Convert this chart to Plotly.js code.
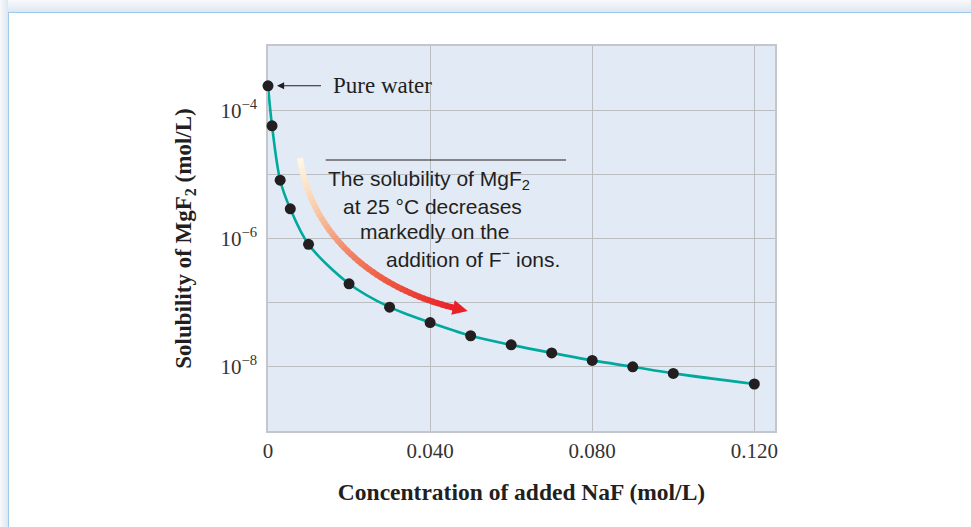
<!DOCTYPE html>
<html><head><meta charset="utf-8">
<script src="https://cdn.plot.ly/plotly-3.0.1.min.js"></script>
<style>
html,body{margin:0;padding:0;background:#fff;}
#wrap{position:relative;width:971px;height:527px;overflow:hidden;background:#fff;}
#topband{position:absolute;left:0;top:0;width:971px;height:12px;background:linear-gradient(to bottom,#f8f9fa,#dde7f2);}
#leftband{position:absolute;left:0;top:0;width:8px;height:527px;background:linear-gradient(to right,#f8f9fa,#dde7f2);}
#frame{position:absolute;left:8px;top:12px;width:980px;height:540px;border-top:1.5px solid #a3c9ea;border-left:1.5px solid #a3c9ea;background:#fff;}
#chart{position:absolute;left:0;top:0;width:971px;height:527px;}
</style></head>
<body>
<div id="wrap"><div id="topband"></div><div id="leftband"></div><div id="frame"></div><div id="chart"></div></div>
<script>
// Data
const concNaF = [0, 0.001, 0.003, 0.0055, 0.010, 0.020, 0.030, 0.040, 0.050, 0.060, 0.070, 0.080, 0.090, 0.100, 0.120];
const solubility = [2.4e-4, 5.7e-5, 8.1e-6, 2.9e-6, 8.1e-7, 1.97e-7, 8.5e-8, 4.9e-8, 3.05e-8, 2.2e-8, 1.65e-8, 1.26e-8, 1.0e-8, 7.9e-9, 5.4e-9];
const xTickVals = [0, 0.04, 0.08, 0.12];
const xTickText = ['0', '0.040', '0.080', '0.120'];
const yTickVals = [1e-8, 1e-6, 1e-4];
const yTickText = ['10<sup>−8</sup>', '10<sup>−6</sup>', '10<sup>−4</sup>'];
const yMinorGrid = [1e-9, 1e-7, 1e-5, 1e-3];
const calloutLines = [
  'The solubility of MgF<sub>2</sub>',
  'at 25 °C decreases',
  'markedly on the',
  'addition of F<sup>−</sup> ions.'
];

// layout geometry (plot area in page pixels)
const W = 971, H = 527;
const M = {l: 268, r: 196, t: 46, b: 96};
const PW = W - M.l - M.r, PH = H - M.t - M.b;
const px2x = p => (p - M.l) / PW;
const px2y = p => (H - M.b - p) / PH;

const serif = 'Liberation Serif, Times New Roman, serif';
const sans = 'Liberation Sans, Arial, Helvetica, sans-serif';
const ink = '#231f20';
const gridCol = '#babdc1';

const traces = [{
  x: concNaF, y: solubility, type: 'scatter', mode: 'lines+markers',
  line: {color: '#00a99d', width: 2.6, shape: 'spline', smoothing: 0.9},
  marker: {color: ink, size: 11},
  cliponaxis: false,
  hoverinfo: 'x+y', showlegend: false
}];

const shapes = [];
const annotations = [];

// callout rule line
shapes.push({type: 'line', xref: 'paper', yref: 'paper',
  x0: px2x(325.7), x1: px2x(566), y0: px2y(160), y1: px2y(160),
  line: {color: ink, width: 1.2}});

// gradient curved arrow (decoration)
const P0 = [300, 158], P1 = [312, 240], P2 = [380, 290], P3 = [455, 308];
const bez = t => {
  const u = 1 - t;
  return [u*u*u*P0[0] + 3*u*u*t*P1[0] + 3*u*t*t*P2[0] + t*t*t*P3[0],
          u*u*u*P0[1] + 3*u*u*t*P1[1] + 3*u*t*t*P2[1] + t*t*t*P3[1]];
};
const stops = [[0, [255, 248, 232]], [0.22, [250, 205, 170]], [0.45, [242, 138, 106]], [0.68, [238, 88, 66]], [1, [232, 32, 40]]];
const colAt = t => {
  for (let i = 0; i < stops.length - 1; i++) {
    const a = stops[i], b = stops[i+1];
    if (t <= b[0]) {
      const f = (t - a[0]) / (b[0] - a[0]);
      const c = a[1].map((v, k) => Math.round(v + (b[1][k] - v) * f));
      return `rgb(${c[0]},${c[1]},${c[2]})`;
    }
  }
  return 'rgb(232,32,40)';
};
const N = 48;
for (let i = 0; i < N; i++) {
  const t0 = i / N, t1 = Math.min(1, (i + 1.35) / N);
  const a = bez(t0), b = bez(t1);
  shapes.push({type: 'line', xref: 'paper', yref: 'paper',
    x0: px2x(a[0]), y0: px2y(a[1]), x1: px2x(b[0]), y1: px2y(b[1]),
    line: {color: colAt((i + 0.5) / N), width: 6}});
}
{
  const dx = P3[0] - P2[0], dy = P3[1] - P2[1], L = Math.hypot(dx, dy);
  const ux = dx / L, uy = dy / L, nx = -uy, ny = ux;
  const tip = [P3[0] + 13*ux, P3[1] + 13*uy];
  const b1 = [P3[0] - 2*ux + 7.5*nx, P3[1] - 2*uy + 7.5*ny];
  const b2 = [P3[0] - 2*ux - 7.5*nx, P3[1] - 2*uy - 7.5*ny];
  const pt = p => `${px2x(p[0])},${px2y(p[1])}`;
  shapes.push({type: 'path', xref: 'paper', yref: 'paper',
    path: `M ${pt(tip)} L ${pt(b1)} L ${pt(b2)} Z`,
    fillcolor: 'rgb(232,32,40)', line: {width: 0}});
}

// callout text lines
const lineLeft = [326.7, 341.7, 359, 385];
const lineMid = [180, 206, 231, 257.5];
calloutLines.forEach((txt, i) => {
  annotations.push({xref: 'paper', yref: 'paper', x: px2x(lineLeft[i]), y: px2y(lineMid[i]),
    xanchor: 'left', yanchor: 'middle', showarrow: false, text: txt,
    font: {family: sans, size: 21, color: ink}, borderpad: 0});
});

// Pure water label with arrow to the first point
annotations.push({x: concNaF[0], y: Math.log10(solubility[0]), xref: 'x', yref: 'y',
  text: 'Pure water', showarrow: true, ax: 53, ay: 0, axref: 'pixel', ayref: 'pixel',
  xanchor: 'left', yanchor: 'middle', borderpad: 11,
  font: {family: serif, size: 23, color: ink},
  arrowhead: 2, arrowsize: 1.3, arrowwidth: 1.1, arrowcolor: ink, standoff: 9});

const layout = {
  width: W, height: H,
  margin: M,
  paper_bgcolor: 'rgba(0,0,0,0)',
  plot_bgcolor: '#e2eaf5',
  showlegend: false,
  xaxis: {
    range: [0, 0.1251], tickvals: xTickVals, ticktext: xTickText,
    showgrid: true, gridcolor: gridCol, gridwidth: 1, zeroline: false,
    showline: true, mirror: true, linecolor: '#c3c6ca', linewidth: 1.5,
    layer: 'below traces',
    ticks: '', 
    tickfont: {family: serif, size: 21, color: '#333'},
    title: {text: '<b>Concentration of added NaF (mol/L)</b>', standoff: 22,
      font: {family: serif, size: 23.5, color: ink}},
    automargin: false
  },
  yaxis: {
    type: 'log', range: [-9, -3], tickvals: yTickVals, ticktext: yTickText,
    showgrid: true, gridcolor: gridCol, gridwidth: 1, zeroline: false,
    minor: {tickvals: yMinorGrid, showgrid: true, gridcolor: gridCol, gridwidth: 1, ticks: ''},
    showline: true, mirror: true, linecolor: '#c3c6ca', linewidth: 1.5,
    layer: 'below traces',
    ticks: 'outside', ticklen: 5, tickcolor: 'rgba(0,0,0,0)',
    tickfont: {family: serif, size: 21, color: '#333'},
    title: {text: '<b>Solubility of MgF<sub>2</sub> (mol/L)</b>', standoff: 22,
      font: {family: serif, size: 23, color: ink}},
    automargin: false
  },
  shapes: shapes,
  annotations: annotations
};

Plotly.newPlot('chart', traces, layout, {displayModeBar: false});
</script>
</body></html>
